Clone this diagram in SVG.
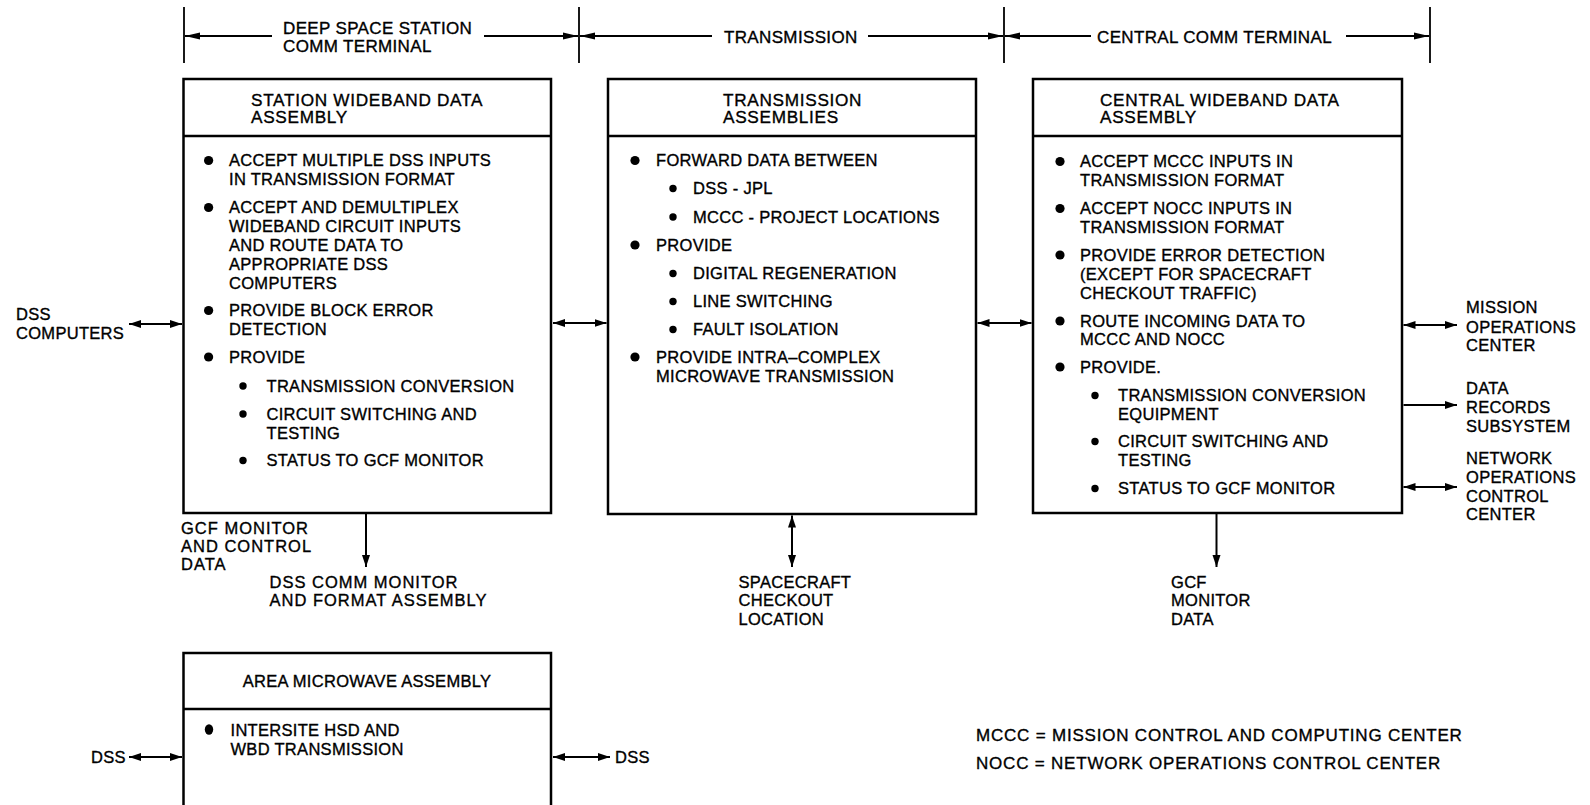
<svg xmlns="http://www.w3.org/2000/svg" width="1590" height="805" viewBox="0 0 1590 805">
<defs>
<marker id="ah" markerUnits="userSpaceOnUse" markerWidth="13" markerHeight="9" refX="12" refY="4.5" orient="auto-start-reverse"><path d="M0,0.5 L12,4.5 L0,8.5 z" fill="#000"/></marker>
<marker id="dh" markerUnits="userSpaceOnUse" markerWidth="16" markerHeight="8" refX="15" refY="4" orient="auto-start-reverse"><path d="M0,0.5 L15,4 L0,7.5 z" fill="#000"/></marker>
<style>
text{font-family:"Liberation Sans",Arial,sans-serif;font-size:16.5px;letter-spacing:0.3px;fill:#000;stroke:#000;stroke-width:0.35px}
.hd{font-size:17.2px;letter-spacing:0.7px}
.dt{font-size:17px;letter-spacing:0.35px}
.wd{letter-spacing:1px}
.lg{font-size:17px;letter-spacing:0.8px}
.box{fill:#fff;stroke:#000;stroke-width:2.5}
.div{stroke:#000;stroke-width:2.5}
.ln{stroke:#000;stroke-width:2;fill:none}
.dim{stroke:#000;stroke-width:1.8;fill:none}
.tick{stroke:#000;stroke-width:1.8}
</style>
</defs>
<rect width="1590" height="805" fill="#fff"/>

<g id="dimension">
<line class="tick" x1="184" y1="7" x2="184" y2="63"/>
<line class="tick" x1="579" y1="7" x2="579" y2="63"/>
<line class="tick" x1="1004" y1="7" x2="1004" y2="63"/>
<line class="tick" x1="1430" y1="7" x2="1430" y2="63"/>
<line class="dim" x1="272" y1="36" x2="185" y2="36" marker-end="url(#dh)"/>
<line class="dim" x1="484" y1="36" x2="578" y2="36" marker-end="url(#dh)"/>
<line class="dim" x1="712" y1="36" x2="580" y2="36" marker-end="url(#dh)"/>
<line class="dim" x1="868" y1="36" x2="1003" y2="36" marker-end="url(#dh)"/>
<line class="dim" x1="1091" y1="36" x2="1005" y2="36" marker-end="url(#dh)"/>
<line class="dim" x1="1346" y1="36" x2="1429" y2="36" marker-end="url(#dh)"/>
<text class="dt" x="283" y="34">DEEP SPACE STATION</text>
<text class="dt" x="283" y="51.5">COMM TERMINAL</text>
<text class="dt" x="724" y="42.5">TRANSMISSION</text>
<text class="dt" x="1097" y="42.5">CENTRAL COMM TERMINAL</text>
</g>

<g id="station-wideband">
<rect class="box" x="183.5" y="79" width="367.5" height="434"/>
<line class="div" x1="183.5" y1="136" x2="551" y2="136"/>
<text class="hd" x="251" y="106">STATION WIDEBAND DATA</text>
<text class="hd" x="251" y="123">ASSEMBLY</text>
<circle cx="208.6" cy="160.5" r="4.6"/>
<text x="229" y="166">ACCEPT MULTIPLE DSS INPUTS</text>
<text x="229" y="185">IN TRANSMISSION FORMAT</text>
<circle cx="208.6" cy="207.5" r="4.6"/>
<text x="229" y="213">ACCEPT AND DEMULTIPLEX</text>
<text x="229" y="232">WIDEBAND CIRCUIT INPUTS</text>
<text x="229" y="251">AND ROUTE DATA TO</text>
<text x="229" y="269.5">APPROPRIATE DSS</text>
<text x="229" y="288.5">COMPUTERS</text>
<circle cx="208.6" cy="310.5" r="4.6"/>
<text x="229" y="316">PROVIDE BLOCK ERROR</text>
<text x="229" y="335">DETECTION</text>
<circle cx="208.6" cy="357" r="4.6"/>
<text x="229" y="362.5">PROVIDE</text>
<circle cx="243" cy="386" r="3.7"/>
<text x="266.5" y="391.5">TRANSMISSION CONVERSION</text>
<circle cx="243" cy="414" r="3.7"/>
<text x="266.5" y="419.5">CIRCUIT SWITCHING AND</text>
<text x="266.5" y="438.5">TESTING</text>
<circle cx="243" cy="460.5" r="3.7"/>
<text x="266.5" y="466">STATUS TO GCF MONITOR</text>
</g>

<g id="transmission-assemblies">
<rect class="box" x="608" y="79" width="368" height="435"/>
<line class="div" x1="608" y1="136" x2="976" y2="136"/>
<text class="hd" x="723" y="106">TRANSMISSION</text>
<text class="hd" x="723" y="123">ASSEMBLIES</text>
<circle cx="635" cy="160.5" r="4.6"/>
<text x="656" y="166">FORWARD DATA BETWEEN</text>
<circle cx="673" cy="188.5" r="3.7"/>
<text x="693" y="194">DSS - JPL</text>
<circle cx="673" cy="217" r="3.7"/>
<text x="693" y="222.5">MCCC - PROJECT LOCATIONS</text>
<circle cx="635" cy="245" r="4.6"/>
<text x="656" y="250.5">PROVIDE</text>
<circle cx="673" cy="273.5" r="3.7"/>
<text x="693" y="279">DIGITAL REGENERATION</text>
<circle cx="673" cy="301.5" r="3.7"/>
<text x="693" y="307">LINE SWITCHING</text>
<circle cx="673" cy="329.5" r="3.7"/>
<text x="693" y="335">FAULT ISOLATION</text>
<circle cx="635" cy="357" r="4.6"/>
<text x="656" y="362.5">PROVIDE INTRA–COMPLEX</text>
<text x="656" y="381.5">MICROWAVE TRANSMISSION</text>
</g>

<g id="central-wideband">
<rect class="box" x="1033" y="79" width="369" height="434"/>
<line class="div" x1="1033" y1="136" x2="1402" y2="136"/>
<text class="hd" x="1100" y="106">CENTRAL WIDEBAND DATA</text>
<text class="hd" x="1100" y="123">ASSEMBLY</text>
<circle cx="1060" cy="161.5" r="4.6"/>
<text x="1080" y="167">ACCEPT MCCC INPUTS IN</text>
<text x="1080" y="185.5">TRANSMISSION FORMAT</text>
<circle cx="1060" cy="208.5" r="4.6"/>
<text x="1080" y="214">ACCEPT NOCC INPUTS IN</text>
<text x="1080" y="232.5">TRANSMISSION FORMAT</text>
<circle cx="1060" cy="255" r="4.6"/>
<text x="1080" y="260.5">PROVIDE ERROR DETECTION</text>
<text x="1080" y="279.5">(EXCEPT FOR SPACECRAFT</text>
<text x="1080" y="298.5">CHECKOUT TRAFFIC)</text>
<circle cx="1060" cy="321" r="4.6"/>
<text x="1080" y="326.5">ROUTE INCOMING DATA TO</text>
<text x="1080" y="345">MCCC AND NOCC</text>
<circle cx="1060" cy="367" r="4.6"/>
<text x="1080" y="372.5">PROVIDE.</text>
<circle cx="1095" cy="395.5" r="3.7"/>
<text x="1118" y="401">TRANSMISSION CONVERSION</text>
<text x="1118" y="419.5">EQUIPMENT</text>
<circle cx="1095" cy="441.5" r="3.7"/>
<text x="1118" y="447">CIRCUIT SWITCHING AND</text>
<text x="1118" y="466">TESTING</text>
<circle cx="1095" cy="488.5" r="3.7"/>
<text x="1118" y="494">STATUS TO GCF MONITOR</text>
</g>

<g id="area-microwave">
<rect class="box" x="183.5" y="653" width="367.5" height="200"/>
<line class="div" x1="183.5" y1="709" x2="551" y2="709"/>
<text x="367" y="687" text-anchor="middle">AREA MICROWAVE ASSEMBLY</text>
<ellipse cx="209" cy="729.5" rx="4.2" ry="5.2"/>
<text x="230.5" y="736">INTERSITE HSD AND</text>
<text x="230.5" y="755">WBD TRANSMISSION</text>
</g>

<g id="dss-computers"><text x="16" y="320">DSS</text><text x="16" y="339">COMPUTERS</text></g>
<g id="mission-ops"><text x="1466" y="313">MISSION</text><text x="1466" y="332.5">OPERATIONS</text><text x="1466" y="351">CENTER</text></g>
<g id="data-records"><text x="1466" y="393.5">DATA</text><text x="1466" y="412.5">RECORDS</text><text x="1466" y="431.5">SUBSYSTEM</text></g>
<g id="network-ops"><text x="1466" y="464">NETWORK</text><text x="1466" y="483">OPERATIONS</text><text x="1466" y="501.5">CONTROL</text><text x="1466" y="520">CENTER</text></g>
<g id="gcf-monitor-control"><text class="wd" x="181" y="533.5">GCF MONITOR</text><text class="wd" x="181" y="552">AND CONTROL</text><text class="wd" x="181" y="570">DATA</text></g>
<g id="dss-comm-monitor"><text class="wd" x="269.5" y="587.5">DSS COMM MONITOR</text><text class="wd" x="269.5" y="606">AND FORMAT ASSEMBLY</text></g>
<g id="spacecraft-checkout"><text x="738.5" y="587.5">SPACECRAFT</text><text x="738.5" y="606">CHECKOUT</text><text x="738.5" y="625">LOCATION</text></g>
<g id="gcf-monitor-data"><text x="1171" y="587.5">GCF</text><text x="1171" y="606">MONITOR</text><text x="1171" y="625">DATA</text></g>
<g id="dss-left"><text x="91" y="763">DSS</text></g>
<g id="dss-right"><text x="615" y="763">DSS</text></g>
<g id="legend">
<text class="lg" x="976" y="741">MCCC = MISSION CONTROL AND COMPUTING CENTER</text>
<text class="lg" x="976" y="769">NOCC = NETWORK OPERATIONS CONTROL CENTER</text>
</g>

<g id="connectors">
<line class="ln" x1="129" y1="324" x2="182" y2="324" marker-start="url(#ah)" marker-end="url(#ah)"/>
<line class="ln" x1="553" y1="323" x2="606.5" y2="323" marker-start="url(#ah)" marker-end="url(#ah)"/>
<line class="ln" x1="977.5" y1="323" x2="1031.5" y2="323" marker-start="url(#ah)" marker-end="url(#ah)"/>
<line class="ln" x1="1403.5" y1="325" x2="1457" y2="325" marker-start="url(#ah)" marker-end="url(#ah)"/>
<line class="ln" x1="1403.5" y1="405" x2="1457" y2="405" marker-end="url(#ah)"/>
<line class="ln" x1="1403.5" y1="487" x2="1457" y2="487" marker-start="url(#ah)" marker-end="url(#ah)"/>
<line class="ln" x1="366" y1="514" x2="366" y2="567" marker-end="url(#ah)"/>
<line class="ln" x1="792" y1="515.5" x2="792" y2="567" marker-start="url(#ah)" marker-end="url(#ah)"/>
<line class="ln" x1="1216.5" y1="514" x2="1216.5" y2="567" marker-end="url(#ah)"/>
<line class="ln" x1="129" y1="757" x2="182" y2="757" marker-start="url(#ah)" marker-end="url(#ah)"/>
<line class="ln" x1="553" y1="757" x2="610" y2="757" marker-start="url(#ah)" marker-end="url(#ah)"/>
</g>
</svg>
